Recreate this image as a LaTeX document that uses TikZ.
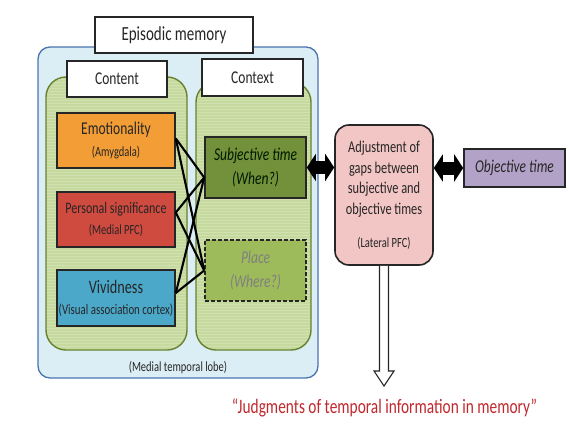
\documentclass[tikz,border=0pt]{standalone}
\usepackage{fontspec}
\setmainfont{Carlito}[FakeStretch=0.75]
\usetikzlibrary{arrows.meta,calc,patterns}
\newcommand{\fsz}[2]{\fontsize{#1}{#2}\selectfont}
\definecolor{outerblue}{HTML}{DCEEF5}
\definecolor{outerline}{HTML}{4A74B0}
\definecolor{panelgreen}{HTML}{C6D99E}
\definecolor{panelline}{HTML}{66822F}
\definecolor{stripe}{HTML}{D2E1B0}
\definecolor{emoorange}{HTML}{F29D35}
\definecolor{persred}{HTML}{CF4A3F}
\definecolor{vividblue}{HTML}{4BA8C9}
\definecolor{subjgreen}{HTML}{72913A}
\definecolor{placegreen}{HTML}{9DBB5A}
\definecolor{adjpink}{HTML}{F2C6C5}
\definecolor{objpurple}{HTML}{B3A2C7}
\definecolor{judgered}{HTML}{C0282D}
\begin{document}
\begin{tikzpicture}[x=1pt, y=-1pt,
    box/.style={draw=black!85, line width=1.6pt, minimum width=118pt, minimum height=55pt, align=center, inner sep=1pt, text=black!85, font=\fsz{14}{21}},
    header/.style={draw=black!85, line width=1.4pt, fill=white, text=black!85},
    panel/.style={draw=panelline, line width=1.4pt, rounded corners=20pt, preaction={fill=panelgreen}, pattern=horizontal lines, pattern color=stripe},
    link/.style={line width=2.1pt, black},
    fatarrow/.style={line width=13pt, {Triangle[width=27pt,length=9pt]}-{Triangle[width=27pt,length=9pt]}},
    hollowarrow/.style={draw=black!85, line width=1.1pt, fill=white}]
    \useasboundingbox (0,0) rectangle (569,425);
    % episodic memory frame
    \node[draw=outerline, line width=1.3pt, fill=outerblue, rounded corners=12pt, minimum width=280pt, minimum height=331pt] (episode) at (178,212.5) {};
    \node[header, minimum width=158pt, minimum height=36pt, font=\fsz{20}{24}] (episodetitle) at (174,35) {Episodic memory};
    \node[font=\fsz{14}{16}, text=black!85] (mtl) at (178,368) {(Medial temporal lobe)};
    % content and context panels
    \node[panel, minimum width=141pt, minimum height=273pt] (content) at (116.5,213.5) {};
    \node[panel, minimum width=115pt, minimum height=268pt] (context) at (253.5,216) {};
    \node[header, minimum width=100pt, minimum height=36pt, font=\fsz{18}{20}] (contenttitle) at (117,79) {Content};
    \node[header, minimum width=101pt, minimum height=37pt, font=\fsz{18}{20}] (contexttitle) at (252.5,77.5) {Context};
    % content boxes
    \node[box, fill=emoorange] (emo) at (116,140.5) {{\fsz{18}{20}Emotionality}\\[1pt]{\fsz{14}{20}(Amygdala)}};
    \node[box, fill=persred] (pers) at (116,219.5) {{\fsz{16}{20}Personal significance}\\{\fsz{14}{20}(Medial PFC)}};
    \node[box, fill=vividblue, minimum height=56pt] (vivid) at (116,298) {{\fsz{19}{20}Vividness}\\{\fsz{14.5}{20}(Visual association cortex)}};
    % context boxes
    \node[box, fill=subjgreen, minimum width=101pt, minimum height=61pt, font=\fsz{18}{24}\itshape, text=black!90!green] (subj) at (255.5,167.5) {Subjective time\\(When?)};
    \node[box, fill=placegreen, minimum width=101pt, minimum height=61pt, dash pattern=on 4pt off 2pt, font=\fsz{18}{24}\itshape, text=black!50] (place) at (255.5,270.5) {Place\\(Where?)};
    \foreach \src/\dy in {emo/2, pers/7, vivid/5} {
        \draw[link] ([yshift=\dy pt]\src.east) -- ([yshift=-10pt]subj.west);
        \draw[link] ([yshift=\dy pt]\src.east) -- (place.west);
    }
    % lateral PFC and objective time
    \node[draw=black!85, line width=1.6pt, fill=adjpink, rounded corners=14pt, minimum width=98pt, minimum height=140pt, align=center, text=black!85, font=\fsz{16.5}{20.7}] (adjust) at (384,195) {Adjustment of\\gaps between\\subjective and\\objective times\\[12pt]{\fsz{14}{16}(Lateral PFC)}};
    \node[box, fill=objpurple, minimum width=101pt, minimum height=38pt, font=\fsz{18}{20}\itshape] (obj) at (514.5,168) {Objective time};
    \draw[fatarrow] (subj.east) -- (subj.east -| adjust.west);
    \draw[fatarrow] (obj.west -| adjust.east) -- (obj.west);
    % judgment output
    \coordinate (tip) at (384,386);
    \draw[hollowarrow] ($(adjust.south)+(-4.5,0)$) -- ($(tip)+(-4.5,-15)$) -- ($(tip)+(-10,-15)$) -- (tip) -- ($(tip)+(10,-15)$) -- ($(tip)+(4.5,-15)$) -- ($(adjust.south)+(4.5,0)$);
    \node[text=judgered, font=\fsz{20.5}{24}] (judge) at (384.5,408) {“Judgments of temporal information in memory”};
\end{tikzpicture}
\end{document}
